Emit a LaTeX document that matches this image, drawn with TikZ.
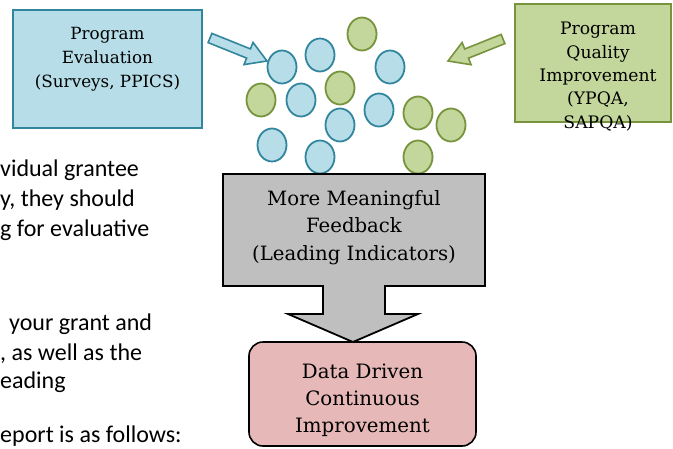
\documentclass[tikz,border=0pt]{standalone}
\usepackage{fontspec}
\setmainfont{DejaVu Serif}
\newfontfamily\slidefont{Carlito}
\usepackage{tikz}
\usepackage{xcolor}
\usetikzlibrary{calc,positioning,shapes.geometric}
\definecolor{paleblue}{HTML}{B7DEE8}
\definecolor{tealblue}{HTML}{31859C}
\definecolor{palegreen}{HTML}{C3D69B}
\definecolor{olivegreen}{HTML}{77933C}
\definecolor{midgray}{HTML}{BFBFBF}
\definecolor{palepink}{HTML}{E6B9B8}

\begin{document}
\begin{tikzpicture}[x=1pt,y=-1pt]
    \tikzset{
        every node/.style={inner sep=0pt},
        bluebox/.style={rectangle,draw=tealblue,fill=paleblue,line width=1.8pt,minimum width=189pt,minimum height=118pt},
        greenbox/.style={rectangle,draw=olivegreen,fill=palegreen,line width=1.8pt,minimum width=156pt,minimum height=118pt},
        pinkbox/.style={rectangle,rounded corners=14pt,draw=black,fill=palepink,line width=1.6pt,minimum width=227pt,minimum height=104pt},
        ballblue/.style={ellipse,draw=tealblue,fill=paleblue,line width=1.8pt,minimum width=29pt,minimum height=33pt},
        ballgreen/.style={ellipse,draw=olivegreen,fill=palegreen,line width=1.8pt,minimum width=29pt,minimum height=33pt},
        boxtext/.style={align=center,font=\fontsize{16.8}{24}\selectfont},
        bigtext/.style={align=center,font=\fontsize{19.8}{27}\selectfont},
        slidetext/.style={anchor=base west,font=\slidefont\fontsize{24}{30}\selectfont},
        blockarrow/.style={line width=1.6pt,line join=miter},
    }
    \useasboundingbox (0,0) rectangle (673,448);

    % text of the slide behind the picture
    \node[slidetext] (txt1) at (0,176) {vidual grantee};
    \node[slidetext] (txt2) at (0,206) {y, they should};
    \node[slidetext] (txt3) at (0,236) {g for evaluative};
    \node[slidetext] (txt4) at (9,330) {your grant and};
    \node[slidetext] (txt5) at (0,360) {, as well as the};
    \node[slidetext] (txt6) at (0,388) {eading};
    \node[slidetext] (txt7) at (0,442) {eport is as follows:};

    \node[bluebox] (item1) at (107.5,69) {};
    \node[boxtext] (item1txt) at ($(item1.north)+(0,50)$) {Program\\Evaluation\\(Surveys, PPICS)};
    \node[greenbox] (item2) at (593,63) {};
    \node[boxtext,font=\fontsize{17.2}{23.3}\selectfont] (item2txt) at ($(item2.north)+(5,73.5)$) {Program\\Quality\\Improvement\\(YPQA,\\SAPQA)};

    \draw[blockarrow,draw=tealblue,fill=paleblue] (211.9,33.4) -- (250.4,48.9) -- (253.0,42.4) -- (267,61)
        -- (244.0,64.6) -- (246.6,58.1) -- (208.1,42.6) -- cycle;
    \draw[blockarrow,draw=olivegreen,fill=palegreen] (501.1,34.4) -- (464.7,49.0) -- (462.1,42.5) -- (448,61)
        -- (471.1,64.7) -- (468.5,58.2) -- (504.9,43.6) -- cycle;

    \node[ballblue] (ball01) at (282,67) {};
    \node[ballblue] (ball02) at (320,55) {};
    \node[ballgreen] (ball03) at (362,34) {};
    \node[ballblue] (ball04) at (390,67) {};
    \node[ballgreen] (ball05) at (261,100) {};
    \node[ballblue] (ball06) at (301,100) {};
    \node[ballgreen] (ball07) at (340,88) {};
    \node[ballblue] (ball08) at (379,110) {};
    \node[ballblue] (ball09) at (340,125) {};
    \node[ballgreen] (ball10) at (418,113) {};
    \node[ballgreen] (ball11) at (451,125) {};
    \node[ballblue] (ball12) at (272,145) {};
    \node[ballblue] (ball13) at (320,157) {};
    \node[ballgreen] (ball14) at (418,157) {};

    \node[pinkbox] (item4) at (362.5,394) {};
    \node[bigtext] (item4txt) at ($(item4.north)+(0,59.5)$) {Data Driven\\Continuous\\Improvement};

    \draw[line width=1.8pt,fill=midgray] (223,174) -- (485,174) -- (485,286) -- (385,286) -- (385,314) -- (418,314)
        -- (353,342) -- (288,314) -- (323,314) -- (323,286) -- (223,286) -- cycle;
    \node[bigtext,font=\fontsize{19.7}{27.5}\selectfont] (item3) at (354,227.5) {More Meaningful\\Feedback\\(Leading Indicators)};

\end{tikzpicture}
\end{document}
